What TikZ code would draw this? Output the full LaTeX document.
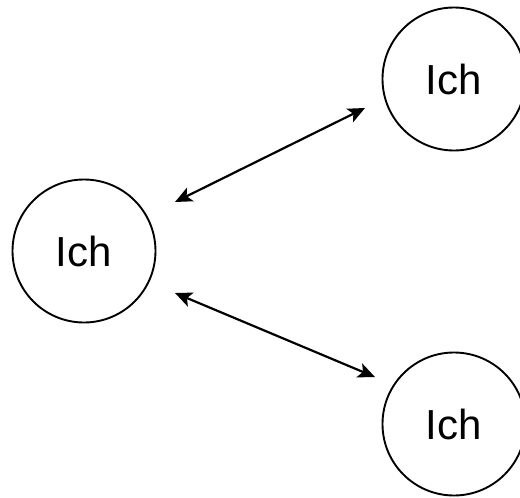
\documentclass[tikz,border=0pt]{standalone}
\usepackage{fontspec}
\setmainfont{Liberation Sans}
\usetikzlibrary{arrows.meta}
\begin{document}
\begin{tikzpicture}[x=1pt,y=-1pt,
  person/.style={draw, circle, line width=1.9pt, minimum size=143pt, inner sep=0pt,
                 font=\fontsize{42}{42}\selectfont},
  link/.style={line width=2.2pt, {Stealth[length=17pt,width=15pt,inset=4pt]}-{Stealth[length=17pt,width=15pt,inset=4pt]}}]
  \useasboundingbox (0,0) rectangle (520,498);
  \node[person] (me)  at (84,251)  {Ich};
  \node[person] (top) at (454,79)  {Ich};
  \node[person] (bot) at (454,424) {Ich};
  \draw[link] ([shift={(91,-49)}]me.center) -- ([shift={(-89,29)}]top.center);
  \draw[link] ([shift={(91,42)}]me.center) -- ([shift={(-79,-47)}]bot.center);
\end{tikzpicture}
\end{document}
